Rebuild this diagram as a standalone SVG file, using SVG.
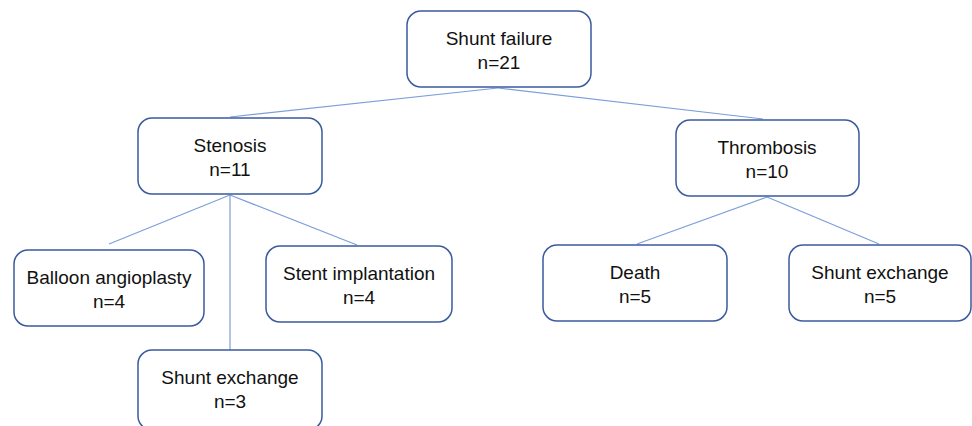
<svg xmlns="http://www.w3.org/2000/svg" width="972" height="426" viewBox="0 0 972 426">
<style>
.box{fill:#fff;stroke:#3A5A9E;stroke-width:1.5}
.lbl{font-family:"Liberation Sans",Arial,sans-serif;font-size:19px;fill:#111;text-anchor:middle}
.conn line{stroke:#7D9EDB;stroke-width:1.2}
</style>
<rect width="972" height="426" fill="#fff"/>
<g class="conn" id="connectors">
<line x1="498" y1="88" x2="230" y2="117"/>
<line x1="498" y1="88" x2="763" y2="119"/>
<line x1="230" y1="195" x2="109" y2="244"/>
<line x1="230" y1="195" x2="357" y2="245"/>
<line x1="230" y1="195" x2="230" y2="350"/>
<line x1="767" y1="197" x2="637" y2="244"/>
<line x1="767" y1="197" x2="879" y2="244"/>
</g>
<g id="shunt-failure"><rect class="box" x="407" y="11" width="184" height="76" rx="14"/><text class="lbl" x="499" y="45">Shunt failure</text><text class="lbl" x="499" y="69">n=21</text></g>
<g id="stenosis"><rect class="box" x="138" y="118" width="184" height="76" rx="14"/><text class="lbl" x="230" y="152">Stenosis</text><text class="lbl" x="230" y="176">n=11</text></g>
<g id="thrombosis"><rect class="box" x="676" y="120" width="183" height="76" rx="14"/><text class="lbl" x="767" y="154">Thrombosis</text><text class="lbl" x="767" y="178">n=10</text></g>
<g id="balloon"><rect class="box" x="14" y="250" width="190" height="76" rx="14"/><text class="lbl" x="109" y="284">Balloon angioplasty</text><text class="lbl" x="109" y="308">n=4</text></g>
<g id="stent"><rect class="box" x="266" y="246" width="186" height="76" rx="14"/><text class="lbl" x="359" y="280">Stent implantation</text><text class="lbl" x="359" y="304">n=4</text></g>
<g id="shunt-exchange-1"><rect class="box" x="138" y="350" width="184" height="80" rx="14"/><text class="lbl" x="230" y="384">Shunt exchange</text><text class="lbl" x="230" y="408">n=3</text></g>
<g id="death"><rect class="box" x="543" y="245" width="184" height="76" rx="14"/><text class="lbl" x="635" y="279">Death</text><text class="lbl" x="635" y="303">n=5</text></g>
<g id="shunt-exchange-2"><rect class="box" x="789" y="245" width="182" height="76" rx="14"/><text class="lbl" x="880" y="279">Shunt exchange</text><text class="lbl" x="880" y="303">n=5</text></g>
</svg>
